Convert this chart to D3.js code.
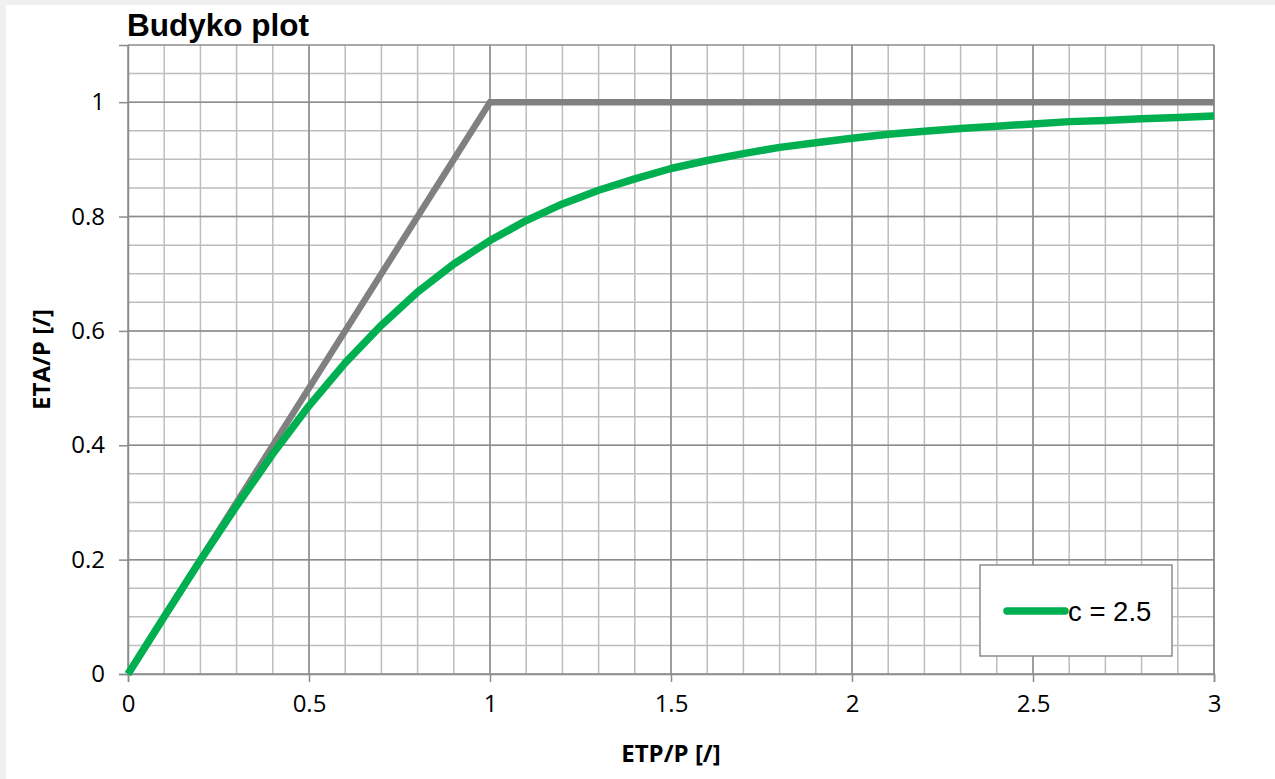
<!DOCTYPE html>
<html>
<head>
<meta charset="utf-8">
<script src="https://cdn.jsdelivr.net/npm/d3@7"></script>
<style>
  body { margin: 0; background: #f0f0f0; }
  svg { display: block; }
</style>
</head>
<body>
<div id="chart"></div>
<script>
// Budyko plot, c = 2.5

var w = 1275;
var h = 779;

// x values (ETP/P) of the curve
var etpP = [0, 0.1, 0.2, 0.3, 0.4, 0.5, 0.6, 0.7, 0.8, 0.9, 1.0,
            1.1, 1.2, 1.3, 1.4, 1.5, 1.6, 1.7, 1.8, 1.9, 2.0,
            2.1, 2.2, 2.3, 2.4, 2.5, 2.6, 2.7, 2.8, 2.9, 3.0];
// ETA/P
var etaP = [0, 0.100, 0.199, 0.294, 0.385, 0.469, 0.544, 0.610, 0.668, 0.717, 0.758,
            0.793, 0.822, 0.846, 0.866, 0.884, 0.898, 0.910, 0.921, 0.929, 0.937,
            0.944, 0.949, 0.954, 0.958, 0.962, 0.966, 0.968, 0.971, 0.973, 0.976];

// energy / water limit (grey)
var limitX = [0, 1, 3];
var limitY = [0, 1, 1];

var xTicks = [0, 0.5, 1, 1.5, 2, 2.5, 3];
var yTicks = [0, 0.2, 0.4, 0.6, 0.8, 1];
var legendLabel = "c = 2.5";

var margin = {left: 128, right: 61, top: 45, bottom: 105};

var svg = d3.select("#chart")
            .append("svg")
            .attr("width", w)
            .attr("height", h);

// white page with a faint edge on the top/left
svg.append("rect")
   .attr("x", 6).attr("y", 5)
   .attr("width", w - 6).attr("height", h - 5)
   .attr("fill", "#ffffff");

var x = d3.scaleLinear()
          .domain([0, 3])
          .range([margin.left, w - margin.right]);

var y = d3.scaleLinear()
          .domain([0, 1.1])
          .range([h - margin.bottom, margin.top]);

// grid - minor first, then major on top
var grid = svg.append("g");

grid.selectAll(".vminor")
    .data(d3.range(1, 30).map(function (i) { return i / 10; }))
    .enter()
    .append("line")
    .attr("x1", function (d) { return x(d); })
    .attr("x2", function (d) { return x(d); })
    .attr("y1", y(0)).attr("y2", y(1.1))
    .attr("stroke", "#bdbdbd")
    .attr("stroke-width", 1.5);

grid.selectAll(".hminor")
    .data(d3.range(1, 22).map(function (i) { return i / 20; }))
    .enter()
    .append("line")
    .attr("y1", function (d) { return y(d); })
    .attr("y2", function (d) { return y(d); })
    .attr("x1", x(0)).attr("x2", x(3))
    .attr("stroke", "#bdbdbd")
    .attr("stroke-width", 1.5);

grid.selectAll(".vmajor")
    .data(xTicks)
    .enter()
    .append("line")
    .attr("x1", function (d) { return x(d); })
    .attr("x2", function (d) { return x(d); })
    .attr("y1", y(0)).attr("y2", y(1.1))
    .attr("stroke", "#8c8c8c")
    .attr("stroke-width", 1.5);

grid.selectAll(".hmajor")
    .data(yTicks.concat([1.1]))
    .enter()
    .append("line")
    .attr("y1", function (d) { return y(d); })
    .attr("y2", function (d) { return y(d); })
    .attr("x1", x(0)).attr("x2", x(3))
    .attr("stroke", "#8c8c8c")
    .attr("stroke-width", 1.5);

// axes
var xAxis = d3.axisBottom(x)
              .tickValues(xTicks)
              .tickSize(8)
              .tickPadding(13)
              .tickFormat(d3.format("~g"));

var yAxis = d3.axisLeft(y)
              .tickValues(yTicks)
              .tickSize(9)
              .tickPadding(14)
              .tickFormat(d3.format("~g"));

var gx = svg.append("g")
            .attr("transform", "translate(0," + y(0) + ")")
            .call(xAxis);

var gy = svg.append("g")
            .attr("transform", "translate(" + x(0) + ",0)")
            .call(yAxis);

[gx, gy].forEach(function (g) {
  g.select(".domain").attr("stroke", "#8c8c8c").attr("stroke-width", 1.5);
  g.selectAll(".tick line").attr("stroke", "#8c8c8c").attr("stroke-width", 1.5);
  g.selectAll(".tick text")
   .attr("fill", "#000")
   .style("font-family", "'Open Sans', sans-serif")
   .style("font-size", "24px");
});
// right border
svg.append("line")
   .attr("x1", x(3)).attr("x2", x(3))
   .attr("y1", y(0)).attr("y2", y(1.1))
   .attr("stroke", "#8c8c8c")
   .attr("stroke-width", 1.5);

// lines
var line = d3.line()
             .x(function (d) { return x(d[0]); })
             .y(function (d) { return y(d[1]); });

svg.append("path")
   .datum(limitX.map(function (v, i) { return [v, limitY[i]]; }))
   .attr("d", line)
   .attr("fill", "none")
   .attr("stroke", "#808080")
   .attr("stroke-width", 6.5);

svg.append("path")
   .datum(etpP.map(function (v, i) { return [v, etaP[i]]; }))
   .attr("d", line)
   .attr("fill", "none")
   .attr("stroke", "#00b050")
   .attr("stroke-width", 7.5)
   .attr("stroke-linejoin", "round");

// legend
var lg = svg.append("g")
            .attr("transform", "translate(980,565)");

lg.append("rect")
  .attr("width", 192)
  .attr("height", 91)
  .attr("fill", "#fff")
  .attr("stroke", "#8c8c8c")
  .attr("stroke-width", 1.5);

lg.append("line")
  .attr("x1", 27).attr("x2", 85)
  .attr("y1", 46).attr("y2", 46)
  .attr("stroke", "#00b050")
  .attr("stroke-width", 7.5)
  .attr("stroke-linecap", "round");

lg.append("text")
  .attr("x", 88)
  .attr("y", 56)
  .style("font-family", "'Liberation Sans', Arial, sans-serif")
  .style("font-size", "27.5px")
  .text(legendLabel);

// titles
svg.append("text")
   .attr("x", 127)
   .attr("y", 36)
   .style("font-family", "'Liberation Sans', Arial, sans-serif")
   .style("font-weight", "bold")
   .style("font-size", "31.5px")
   .text("Budyko plot");

svg.append("text")
   .attr("x", x(1.5))
   .attr("y", 762)
   .attr("text-anchor", "middle")
   .style("font-family", "'Open Sans', sans-serif")
   .style("font-weight", "bold")
   .style("font-size", "24px")
   .text("ETP/P [/]");

svg.append("text")
   .attr("transform", "translate(50," + y(0.55) + ") rotate(-90)")
   .attr("text-anchor", "middle")
   .style("font-family", "'Open Sans', sans-serif")
   .style("font-weight", "bold")
   .style("font-size", "24px")
   .text("ETA/P [/]");
</script>
</body>
</html>
